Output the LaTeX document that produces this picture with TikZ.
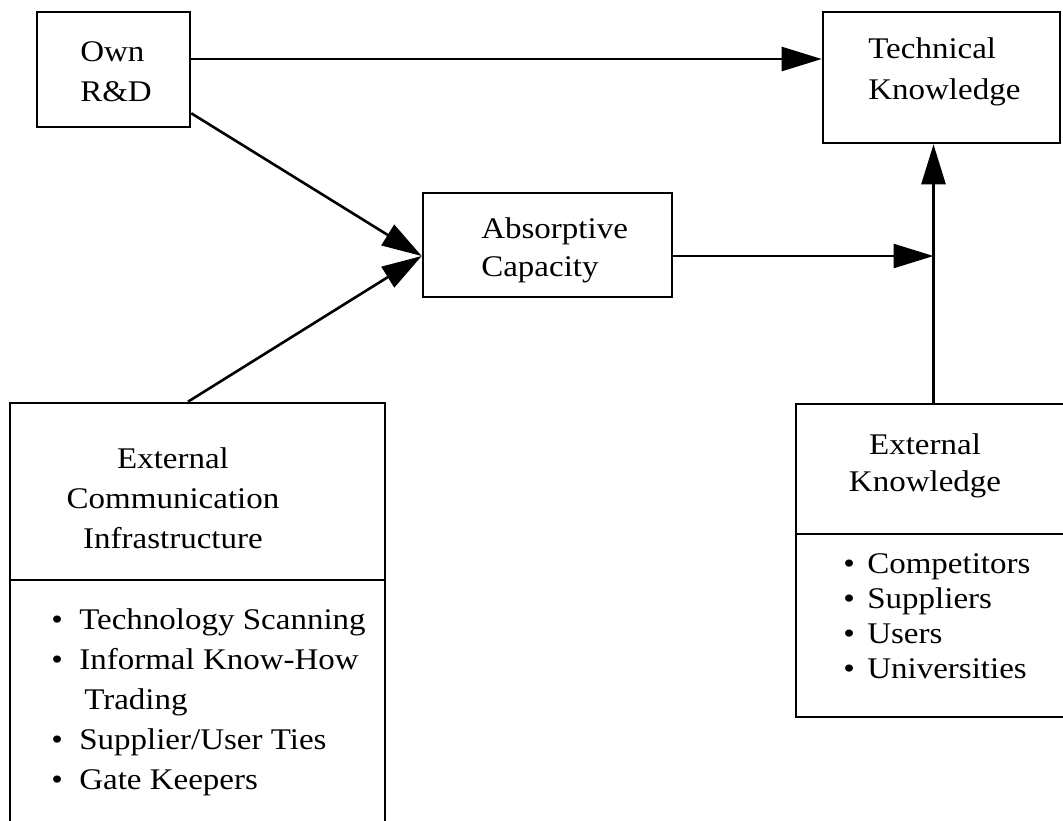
\documentclass[tikz,border=0pt]{standalone}
\usepackage{fontspec}
\setmainfont{Liberation Serif}[FakeStretch=1.1]
\usetikzlibrary{arrows.meta}

\newcommand{\topstrut}{\rule{0pt}{11pt}}
\newcommand{\bul}[2][14pt]{\makebox[#1][l]{\textbullet}#2}

\begin{document}
\begin{tikzpicture}[x=0.5pt, y=-0.5pt, line width=1.3pt,
    box/.style={draw, rectangle, inner sep=0pt},
    txt/.style={inner sep=0pt, align=left, anchor=north west},
    arr/.style={-{Triangle[length=20pt, width=12pt]}}]
    \useasboundingbox (0,0) rectangle (1063,820);
    \clip (0,0) rectangle (1063,820);
    % boxes
    \node[box, minimum width=76.5pt, minimum height=57.5pt] (ownrd) at (113.5,69.5) {};
    \node[box, minimum width=118.5pt, minimum height=65.5pt] (techk) at (941.5,77.5) {};
    \node[box, minimum width=124.5pt, minimum height=52pt] (absorb) at (547.5,245) {};
    \node[box, minimum width=187.5pt, minimum height=218.5pt] (extcomm) at (197.5,621.5) {};
    \node[box, minimum width=139.5pt, minimum height=156.5pt] (extk) at (935.5,560.5) {};
    \draw (10,580) -- (385,580);
    \draw (796,534) -- (1075,534);
    % texts
    \node[txt, font=\fontsize{15}{20}\selectfont] (ownrdtxt) at (79,38) {\topstrut Own\\R\&D};
    \node[txt, font=\fontsize{15}{20.5}\selectfont] (techktxt) at (867,35) {\topstrut Technical\\Knowledge};
    \node[txt, font=\fontsize{15}{19}\selectfont] (absorbtxt) at (480,215) {\topstrut Absorptive\\Capacity};
    \node[txt, align=center, anchor=north, font=\fontsize{15}{20}\selectfont] (extcommtxt) at (173,445)
        {\topstrut External\\Communication\\Infrastructure};
    \node[txt, font=\fontsize{15}{20}\selectfont] (extcommlist) at (50,606)
        {\topstrut\bul{Technology Scanning}\\\bul{Informal Know-How}\\\hspace*{16.5pt}Trading\\
         \bul{Supplier/User Ties}\\\bul{Gate Keepers}};
    \node[txt, align=center, anchor=north, font=\fontsize{15}{18.5}\selectfont] (extktxt) at (925,431)
        {\topstrut External\\Knowledge};
    \node[txt, font=\fontsize{15}{17.5}\selectfont] (extklist) at (842,550)
        {\topstrut\bul[12pt]{Competitors}\\\bul[12pt]{Suppliers}\\\bul[12pt]{Users}\\\bul[12pt]{Universities}};
    % connectors
    \coordinate (toprow) at (0,59);
    \coordinate (junc) at (933.5,256);
    \draw[arr] (ownrd.east |- toprow) -- (techk.west |- toprow);
    \draw[arr] ([yshift=7.5pt]ownrd.south east) -- (absorb.west |- junc);
    \draw[arr] ([xshift=-4.75pt]extcomm.north) -- (absorb.west |- junc);
    \draw[arr] (absorb.east |- junc) -- (junc);
    \draw[arr] (extk.north -| junc) -- (techk.south -| junc);
\end{tikzpicture}
\end{document}
